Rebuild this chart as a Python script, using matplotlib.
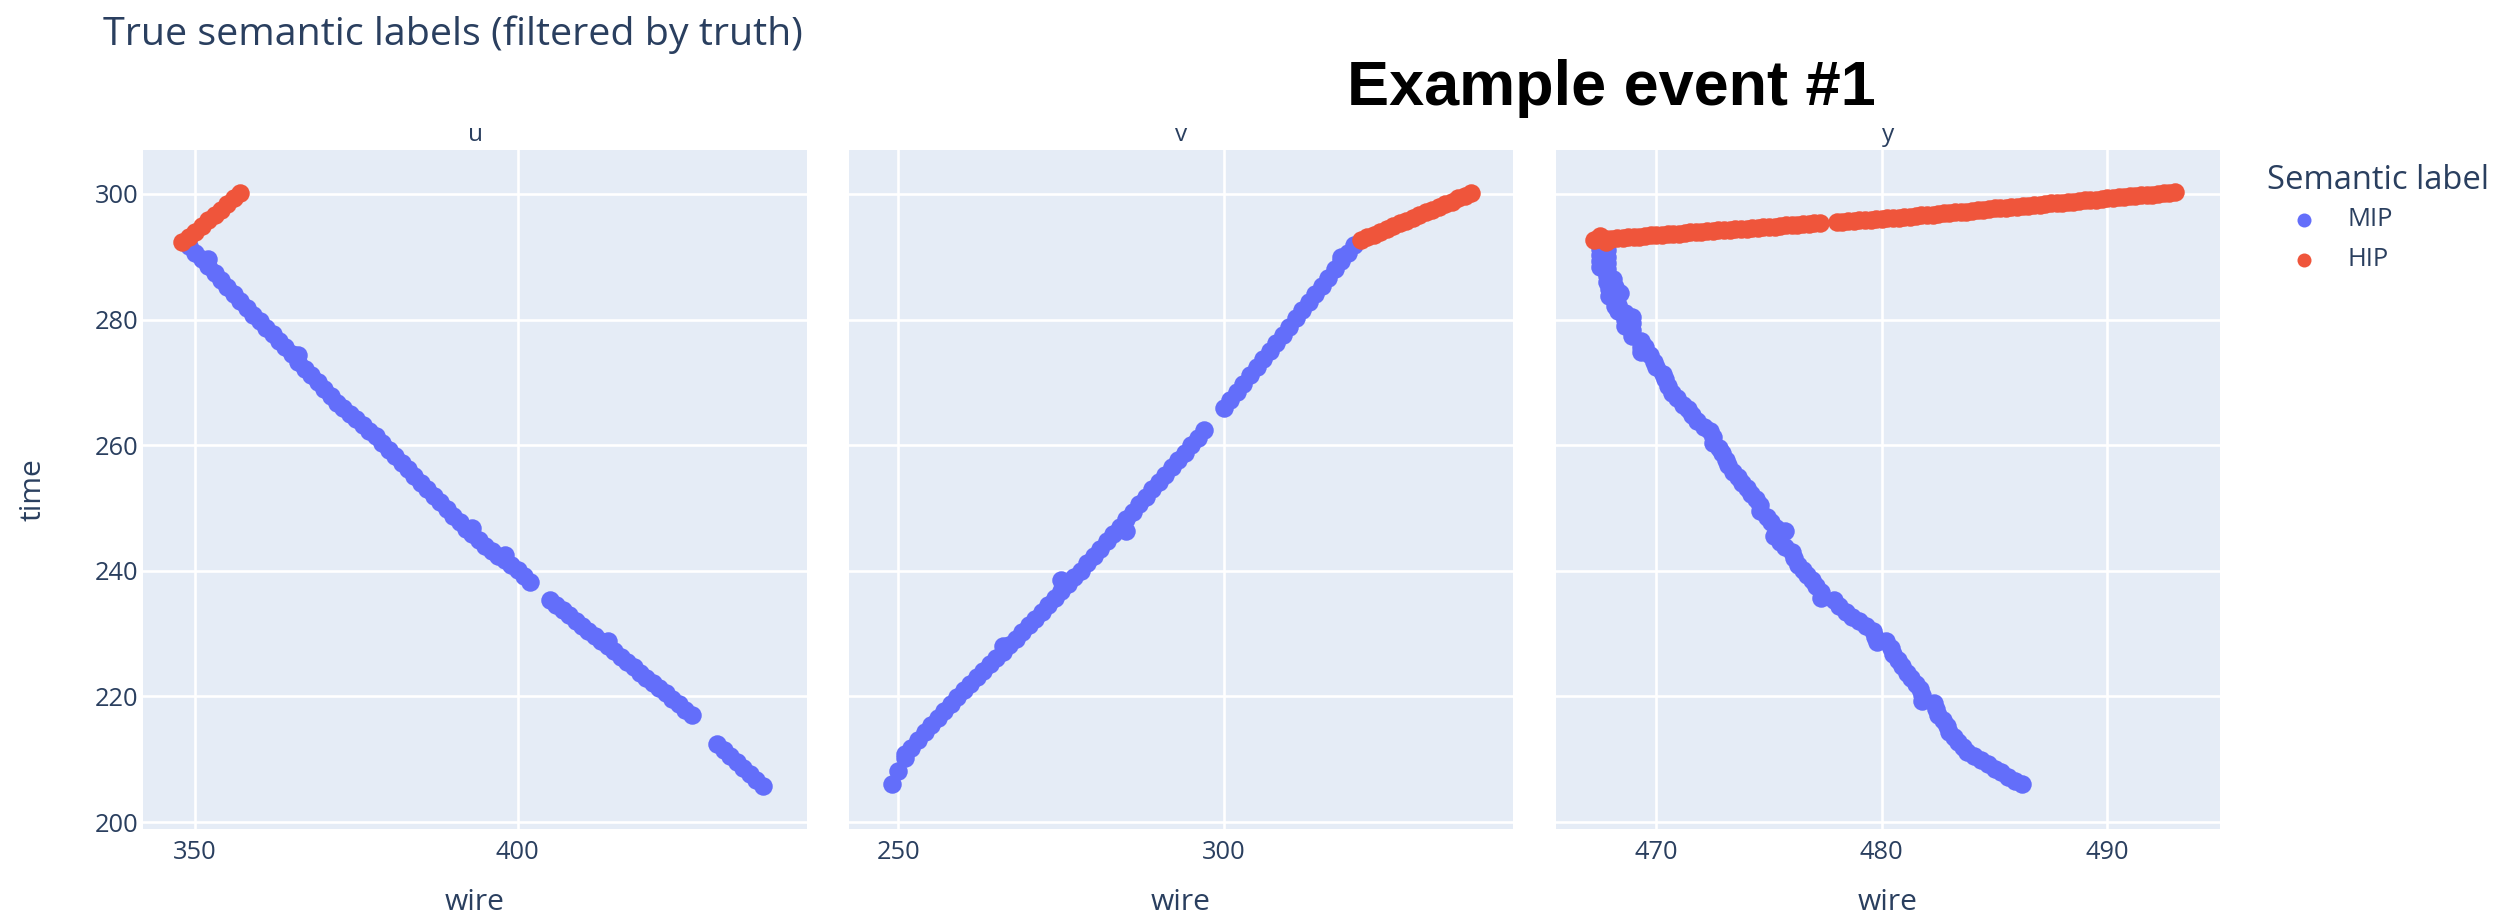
import numpy as np
import matplotlib
matplotlib.use("Agg")
import matplotlib.pyplot as plt
from matplotlib.lines import Line2D

# Hits of one event, (wire, time) per plane and per semantic class

U_MIP = [
    (349, 291.7), (350, 290.6), (351, 289.6), (352, 288.5), (353, 287.4), (354, 286.3),
    (355, 285.2), (356, 284.1), (357, 283.0), (358, 281.9), (359, 280.8), (360, 279.8),
    (361, 278.7), (362, 277.7), (363, 276.6), (364, 275.6), (365, 274.5), (366, 273.3),
    (367, 272.2), (368, 271.1), (369, 270.0), (370, 268.9), (371, 267.8), (372, 266.8),
    (373, 265.9), (374, 265.0), (375, 264.1), (376, 263.2), (377, 262.3), (378, 261.4),
    (379, 260.4), (380, 259.3), (381, 258.3), (382, 257.2), (383, 256.2), (384, 255.1),
    (385, 254.0), (386, 253.0), (387, 251.9), (388, 250.9), (389, 249.8), (390, 248.8),
    (391, 247.7), (392, 246.7), (393, 245.8), (394, 244.9), (395, 244.0), (396, 243.2),
    (397, 242.4), (398, 241.7), (399, 240.9), (400, 240.1), (401, 239.2), (402, 238.3),
    (405, 235.4), (406, 234.6), (407, 233.7), (408, 232.9), (409, 232.0), (410, 231.2),
    (411, 230.4), (412, 229.6), (413, 228.8), (414, 228.0), (415, 227.2), (416, 226.3),
    (417, 225.5), (418, 224.7), (419, 223.8), (420, 223.0), (421, 222.2), (422, 221.3),
    (423, 220.5), (424, 219.6), (425, 218.8), (426, 217.9), (427, 217.1),
    (431, 212.4), (432, 211.5), (433, 210.5), (434, 209.6), (435, 208.6), (436, 207.7),
    (437, 206.7), (438, 205.8),
    (352, 289.6), (366, 274.4), (393, 246.8), (398, 242.6), (414, 228.9),
]
U_HIP = [
    (348, 292.4), (349, 293.2), (350, 294.0), (351, 294.9), (352, 295.8),
    (353, 296.6), (354, 297.5), (355, 298.4), (356, 299.3), (357, 300.1),
]

V_MIP = [
    (249, 206.0), (250, 208.2), (251, 210.2), (252, 211.8), (253, 213.1), (254, 214.3),
    (255, 215.5), (256, 216.6), (257, 217.7), (258, 218.8), (259, 219.9), (260, 221.0),
    (261, 222.0), (262, 223.1), (263, 224.1), (264, 225.1), (265, 226.1), (266, 227.1),
    (267, 228.2), (268, 229.2), (269, 230.2), (270, 231.3), (271, 232.4), (272, 233.5),
    (273, 234.6), (274, 235.7), (275, 236.8), (276, 237.9), (277, 239.0), (278, 240.0),
    (279, 241.2), (280, 242.4), (281, 243.5), (282, 244.7), (283, 245.8), (284, 247.0),
    (285, 248.2), (286, 249.4), (287, 250.6), (288, 251.8), (289, 253.0), (290, 254.1),
    (291, 255.3), (292, 256.5), (293, 257.7), (294, 258.8), (295, 260.0), (296, 261.2),
    (297, 262.4),
    (300, 265.9), (301, 267.2), (302, 268.5), (303, 269.8), (304, 271.1), (305, 272.4),
    (306, 273.7), (307, 275.0), (308, 276.3), (309, 277.6), (310, 278.9), (311, 280.2),
    (312, 281.5), (313, 282.8), (314, 284.1), (315, 285.4), (316, 286.7), (317, 288.0),
    (318, 289.3), (319, 290.6), (320, 291.9),
    (251, 210.9), (266, 228.0), (275, 238.5), (285, 246.3), (318, 290.0),
]
V_HIP = [
    (321, 292.7), (322, 293.1), (323, 293.5), (324, 294.0), (325, 294.4), (326, 294.9),
    (327, 295.3), (328, 295.7), (329, 296.2), (330, 296.6), (331, 297.1), (332, 297.5),
    (333, 298.0), (334, 298.4), (335, 298.8), (336, 299.3), (337, 299.7), (338, 300.1),
]

Y_MIP = [
    (467.5, 292.3), (467.8, 292.0), (467.5, 291.3), (467.8, 291.0), (467.5, 290.3),
    (467.8, 290.0), (467.5, 289.3), (467.8, 289.0), (467.5, 288.3), (467.8, 288.0),
    (467.8, 287.0), (467.8, 286.0), (468.1, 286.5), (467.9, 284.8), (467.9, 283.8),
    (468.15, 285.2), (468.15, 284.2), (468.15, 283.2), (468.15, 282.2), (468.4, 284.2),
    (468.3, 282.4), (468.3, 281.4),
    (468.6, 281.0), (468.6, 280.0), (468.6, 279.0), (468.9, 280.4), (468.9, 279.4),
    (468.9, 278.4), (468.9, 277.4),
    (469.3, 276.6), (469.3, 275.6), (469.5, 275.6), (469.3, 274.8),
    (469.7, 274.3), (469.9, 273.3), (470.0, 272.5), (470.3, 271.3), (470.4, 270.5),
    (470.5, 269.5), (470.7, 268.3), (470.9, 267.5), (471.2, 266.4), (471.4, 265.7),
    (471.6, 264.8), (471.8, 263.8), (472.1, 262.9), (472.4, 262.2), (472.5, 261.3),
    (472.5, 260.4), (472.8, 259.6), (472.9, 258.7), (473.1, 257.6), (473.2, 256.8),
    (473.4, 255.8), (473.6, 255.0), (473.8, 254.0), (474.0, 253.2), (474.2, 252.3),
    (474.4, 251.4), (474.6, 250.5), (474.6, 249.5), (474.9, 248.6), (475.1, 247.7),
    (475.3, 246.8), (475.7, 246.4), (475.2, 245.6), (475.5, 244.6), (475.7, 243.8),
    (476.0, 243.0), (476.1, 242.0), (476.3, 241.0), (476.5, 240.2), (476.7, 239.3),
    (476.9, 238.5), (477.1, 237.6), (477.3, 236.6), (477.3, 235.6),
    (477.9, 235.4), (478.1, 234.4), (478.4, 233.5), (478.7, 232.7), (479.0, 232.0),
    (479.3, 231.2), (479.6, 230.4), (479.7, 229.5), (479.8, 228.6), (480.2, 228.8),
    (480.4, 227.7), (480.5, 226.7), (480.7, 225.8), (480.9, 224.8), (481.1, 223.8),
    (481.3, 222.9), (481.5, 222.0), (481.7, 221.2), (481.8, 220.2), (481.8, 219.3),
    (482.3, 219.0), (482.4, 218.0), (482.5, 217.0), (482.7, 216.2), (482.9, 215.3),
    (483.0, 214.4), (483.2, 213.5), (483.4, 212.7), (483.6, 211.9), (483.8, 211.2),
    (484.1, 210.5), (484.4, 209.9), (484.7, 209.2), (485.0, 208.5), (485.3, 207.9),
    (485.6, 207.2), (485.9, 206.6), (486.2, 206.0),
]
Y_HIP = [
    (467.25, 292.7), (467.5, 292.8), (467.75, 292.8), (468.0, 292.9), (468.25, 293.0),
    (468.5, 293.0), (468.75, 293.1), (469.0, 293.2), (469.25, 293.2), (469.5, 293.3),
    (469.75, 293.4), (470.0, 293.5), (470.25, 293.5), (470.5, 293.6), (470.75, 293.7),
    (471.0, 293.7), (471.25, 293.8), (471.5, 293.9), (471.75, 293.9), (472.0, 294.0),
    (472.25, 294.1), (472.5, 294.1), (472.75, 294.2), (473.0, 294.2), (473.25, 294.3),
    (473.5, 294.4), (473.75, 294.4), (474.0, 294.5), (474.25, 294.6), (474.5, 294.6),
    (474.75, 294.7), (475.0, 294.8), (475.25, 294.8), (475.5, 294.9), (475.75, 295.0),
    (476.0, 295.0), (476.25, 295.1), (476.5, 295.2), (476.75, 295.2), (477.0, 295.3),
    (477.25, 295.4),
    (478.0, 295.5), (478.25, 295.6), (478.5, 295.7), (478.75, 295.7), (479.0, 295.8),
    (479.25, 295.9), (479.5, 295.9), (479.75, 296.0), (480.0, 296.0), (480.25, 296.1),
    (480.5, 296.2), (480.75, 296.2), (481.0, 296.3), (481.25, 296.4), (481.5, 296.5),
    (481.75, 296.6), (482.0, 296.7), (482.25, 296.7), (482.5, 296.8), (482.75, 296.9),
    (483.0, 297.0), (483.25, 297.1), (483.5, 297.2), (483.75, 297.2), (484.0, 297.3),
    (484.25, 297.4), (484.5, 297.5), (484.75, 297.6), (485.0, 297.7), (485.25, 297.7),
    (485.5, 297.8), (485.75, 297.9), (486.0, 298.0), (486.25, 298.1), (486.5, 298.1),
    (486.75, 298.2), (487.0, 298.3), (487.25, 298.4), (487.5, 298.5), (487.75, 298.6),
    (488.0, 298.6), (488.25, 298.7), (488.5, 298.8), (488.75, 298.9), (489.0, 299.0),
    (489.25, 299.0), (489.5, 299.1), (489.75, 299.2), (490.0, 299.3), (490.25, 299.4),
    (490.5, 299.5), (490.75, 299.5), (491.0, 299.6), (491.25, 299.7), (491.5, 299.8),
    (491.75, 299.9), (492.0, 299.9), (492.25, 300.0), (492.5, 300.1), (492.75, 300.2),
    (493.0, 300.3),
    (467.5, 293.3), (467.75, 292.3),
]

PLANES = ["u", "v", "y"]
LABELS = ["MIP", "HIP"]
HITS = {
    "u": [U_MIP, U_HIP],
    "v": [V_MIP, V_HIP],
    "y": [Y_MIP, Y_HIP],
}
X_TICKS = {"u": [350, 400], "v": [250, 300], "y": [470, 480, 490]}
X_RANGE = {"u": (341.9, 444.9), "v": (242.4, 344.4), "y": (465.55, 495.0)}
Y_TICKS = [200, 220, 240, 260, 280, 300]
Y_RANGE = (198.9, 307.0)

COLORS = ["#636EFA", "#EF553B"]
BG = "#E5ECF6"
INK = "#2a3f5f"

W, H = 2520, 918
DPI = 200
plt.rcParams["font.family"] = ["Open Sans", "DejaVu Sans"]


def fx(px):
    return px / W


def fy(py):
    return 1 - py / H


fig = plt.figure(figsize=(W / DPI, H / DPI), dpi=DPI)

panel_left = [143, 849, 1556]
panel_w = 664
top, bottom = 150, 829
marker_s = (18.5 * 72 / DPI) ** 2

for i, plane in enumerate(PLANES):
    ax = fig.add_axes([fx(panel_left[i]), fy(bottom), panel_w / W, (bottom - top) / H])
    ax.set_facecolor(BG)
    for s in ax.spines.values():
        s.set_visible(False)
    ax.set_axisbelow(True)
    ax.grid(True, color="white", linewidth=0.95)
    for k, hits in enumerate(HITS[plane]):
        pts = np.array(hits)
        ax.scatter(pts[:, 0], pts[:, 1], s=marker_s, color=COLORS[k],
                   linewidths=0, zorder=2 + k)
    ax.set_xlim(*X_RANGE[plane])
    ax.set_ylim(*Y_RANGE)
    ax.set_xticks(X_TICKS[plane])
    ax.set_yticks(Y_TICKS)
    ax.tick_params(length=0, labelsize=9.2, labelcolor=INK, pad=4)
    ax.tick_params(axis="y", pad=1.5)
    if i > 0:
        ax.tick_params(labelleft=False)
    cx = panel_left[i] + panel_w / 2
    fig.text(fx(cx), fy(141), plane, ha="center", va="baseline",
             fontsize=8.8, color=INK)
    fig.text(fx(cx), fy(903), "wire", ha="center", va="center",
             fontsize=10.8, color=INK)

fig.text(fx(33), fy(490), "time", ha="center", va="center", rotation=90,
         fontsize=10.8, color=INK)

fig.text(fx(103), fy(45), "True semantic labels (filtered by truth)",
         ha="left", va="baseline", fontsize=14.2, color=INK)

fig.text(fx(1347), fy(105), "Example event #1", ha="left", va="baseline",
         fontsize=22.7, fontweight="bold", color="black",
         family=["Liberation Sans", "DejaVu Sans"])

# legend
fig.text(fx(2267), fy(189), "Semantic label", ha="left", va="baseline",
         fontsize=11.8, color=INK)
for k, name in enumerate(LABELS):
    yy = 220 + 40 * k
    fig.add_artist(Line2D([fx(2304)], [fy(yy)], transform=fig.transFigure,
                          marker="o", markersize=14 * 72 / DPI, linestyle="none",
                          markerfacecolor=COLORS[k], markeredgewidth=0))
    fig.text(fx(2347), fy(yy), name, ha="left", va="center",
             fontsize=9.2, color=INK)

fig.savefig("out.png", dpi=DPI, facecolor="white")
